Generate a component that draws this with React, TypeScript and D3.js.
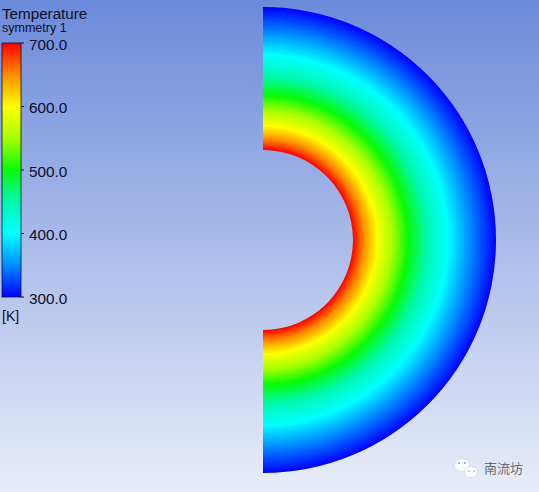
import React from "react";
import * as d3 from "d3";

const W = 539, H = 492;
const legendTicks = [700, 600, 500, 400, 300];
const tickLabels = ["700.0", "600.0", "500.0", "400.0", "300.0"];
const colorTemps = [300, 350, 400, 450, 500, 550, 600, 650, 700];
const colorValues = ["#0000ff", "#008cff", "#00ffff", "#00f8b0", "#08fa08", "#a8ff00", "#ffff00", "#ff8c00", "#ff0000"];
// Temperature read along the mid-plane, with the matching radius in pixels
const profileTemps = [700, 650, 600, 550, 500, 450, 400, 350, 300];
const profileRadii = [90, 101, 114, 129, 145, 164, 185, 207, 233];
const bgStops = ["#6b8ada", "#abbcea", "#e9edf9"];

const tempColor = d3.scaleLinear<string>().domain(colorTemps).range(colorValues).interpolate(d3.interpolateRgb);
const legendY = d3.scaleLinear().domain([300, 700]).range([297, 43]);
const radius = d3.scaleLinear().domain([0, 233]).range([0, 233]);

const cx = 263, cy = 240;
const band = d3.arc()({
  innerRadius: radius(90),
  outerRadius: radius(233),
  startAngle: 0,
  endAngle: Math.PI,
} as any) as string;

const font = "'Liberation Sans', Arial, sans-serif";
const ink = "#0a0f2a";

export default function App() {
  return (
    <svg width={W} height={H} viewBox={`0 0 ${W} ${H}`} style={{ position: "absolute", left: 0, top: 0, display: "block" }}>
      <defs>
        <linearGradient id="bg" x1="0" y1="0" x2="0" y2="1">
          {bgStops.map((c, i) => <stop key={i} offset={i / (bgStops.length - 1)} stopColor={c} />)}
        </linearGradient>
        <linearGradient id="bar" x1="0" y1="1" x2="0" y2="0">
          {colorTemps.map((t, i) => <stop key={t} offset={i / (colorTemps.length - 1)} stopColor={tempColor(t)} />)}
        </linearGradient>
        <radialGradient id="field" gradientUnits="userSpaceOnUse" cx={0} cy={0} r={radius(233)}>
          {profileTemps.map((t, i) => <stop key={t} offset={radius(profileRadii[i]) / radius(233)} stopColor={tempColor(t)} />)}
        </radialGradient>
      </defs>
      <rect width={W} height={H} fill="url(#bg)" />
      <path d={band} transform={`translate(${cx},${cy})`} fill="url(#field)" />

      <text x={2} y={19} fontFamily={font} fontSize={15.2} fill={ink}>Temperature</text>
      <text x={2} y={32} fontFamily={font} fontSize={12.5} fill={ink}>symmetry 1</text>

      <rect x={2} y={legendY(700)} width={19} height={legendY(300) - legendY(700)} fill="url(#bar)" stroke={ink} strokeWidth={0.8} />
      {legendTicks.map((t, i) => (
        <g key={t}>
          <line x1={21} x2={24} y1={legendY(t)} y2={legendY(t)} stroke={ink} strokeWidth={1} />
          <text x={29} y={legendY(t) + 6.5} fontFamily={font} fontSize={15.3} fill={ink}>{tickLabels[i]}</text>
        </g>
      ))}
      <text x={2} y={321} fontFamily={font} fontSize={14} fill={ink}>[K]</text>

      <g opacity={0.95}>
        <ellipse cx={462} cy={465} rx={7.5} ry={6.5} fill="#ffffff" stroke="#c8ccd6" strokeWidth={0.5} />
        <ellipse cx={471} cy={472} rx={6.5} ry={5.5} fill="#ffffff" stroke="#c8ccd6" strokeWidth={0.5} />
        <circle cx={459} cy={463} r={0.9} fill="#8a8f9a" />
        <circle cx={465} cy={463} r={0.9} fill="#8a8f9a" />
        <circle cx={469} cy={471} r={0.8} fill="#8a8f9a" />
        <circle cx={474} cy={471} r={0.8} fill="#8a8f9a" />
      </g>
      <text x={484} y={473} fontFamily="'Noto Sans CJK SC', sans-serif" fontSize={13} fill="#666c78">南流坊</text>
    </svg>
  );
}
